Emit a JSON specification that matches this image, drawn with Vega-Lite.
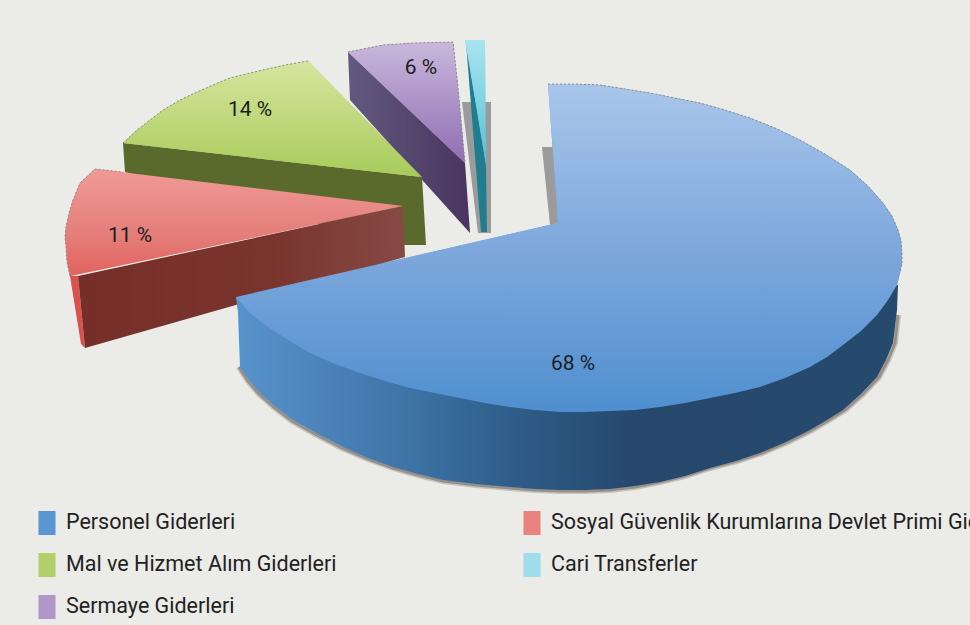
{"$schema":"https://vega.github.io/schema/vega-lite/v6.json","width":970,"height":625,"padding":0,"autosize":{"type":"none"},"background":"#ebebe8","view":{"stroke":null},
"config":{"font":"Roboto"},
"projection":{"type":"identity","scale":10,"translate":[0,0]},
"datasets":{
"faces":[
{"type":"Feature","properties":{"category":"Personel Giderleri","value":68,"part":"top"},"geometry":{"type":"Polygon","coordinates":[[[54.8,8.4],[57.5,8.4],[60,8.5],[62.5,8.9],[65,9.3],[67.5,9.8],[70,10.3],[72.5,11],[75,11.8],[77.5,12.8],[80,14],[82.5,15.4],[85,17],[86.8,18.6],[88.3,20.3],[89.2,21.6],[89.8,23],[90.1,24.1],[90.2,25.3],[90.2,26.3],[90,27.3],[89.7,28.5],[88.8,30],[87.7,31.5],[86.1,33.1],[84.3,34.5],[82.7,35.7],[81,36.7],[78.5,37.8],[76,38.7],[73.5,39.3],[71,39.8],[68.5,40.3],[66,40.7],[63.5,41],[61,41.1],[58.5,41.2],[56,41.2],[53.5,41],[51,40.7],[48.5,40.3],[46,39.8],[43.5,39.3],[41,38.8],[38.5,38.1],[36,37.3],[33.5,36.4],[31,35.3],[29.3,34.3],[27.7,33.3],[26.1,32.2],[24.7,31],[23.6,29.7],[55.8,22.3],[54.8,8.4]]]}},
{"type":"Feature","properties":{"category":"Sosyal Güvenlik Kurumlarına Devlet Primi Giderleri","value":11,"part":"top"},"geometry":{"type":"Polygon","coordinates":[[[9.5,16.9],[40.3,20.6],[7,27.6],[6.7,26.2],[6.6,24.7],[6.5,23.7],[6.6,22.7],[6.9,21.3],[7.3,20],[8,18.3],[9.5,16.9]]]}},
{"type":"Feature","properties":{"category":"Mal ve Hizmet Alım Giderleri","value":14,"part":"top"},"geometry":{"type":"Polygon","coordinates":[[[30.8,6.1],[42.2,17.7],[12.3,14.3],[13.7,13],[15,12],[16.3,11],[18,10],[19.7,9.2],[21.3,8.5],[23,7.8],[24.6,7.4],[26.3,7],[28.5,6.5],[30.8,6.1]]]}},
{"type":"Feature","properties":{"category":"Sermaye Giderleri","value":6,"part":"top"},"geometry":{"type":"Polygon","coordinates":[[[34.8,5.2],[38.3,4.5],[41.3,4.3],[45.3,4.2],[45.8,8.7],[46.5,16.3],[34.8,5.2]]]}},
{"type":"Feature","properties":{"category":"Cari Transferler","value":1,"part":"top"},"geometry":{"type":"Polygon","coordinates":[[[46.5,4],[48.5,4],[48.6,16.5],[46.5,4]]]}},
{"type":"Feature","properties":{"category":"Personel Giderleri","part":"side"},"geometry":{"type":"Polygon","coordinates":[[[23.6,29.7],[89.8,28.5],[89.7,31],[89.3,34.3],[88.6,36],[87.7,37.7],[86.1,39.4],[84.3,41],[82.7,42],[81,43],[78.6,44.2],[76,45.3],[73.6,46.1],[71,46.8],[68.5,47.6],[66,48.2],[63.5,48.6],[61,48.9],[58.5,49],[56,49],[53.5,48.9],[51,48.7],[47.6,48.4],[44.3,48],[41.8,47.4],[39.3,46.7],[36.8,45.8],[34.3,44.7],[31.8,43.4],[29.3,42],[27.6,40.7],[26,39.3],[24.9,38],[24,36.7],[23.8,31.3],[23.6,29.7]]]}},
{"type":"Feature","properties":{"category":"Personel Giderleri","part":"shadow"},"geometry":{"type":"LineString","coordinates":[[89.8,31.5],[89.5,34.3],[88.8,36],[87.9,37.7],[86.3,39.4],[84.5,41],[82.9,42],[81.2,43],[78.8,44.2],[76.2,45.3],[73.7,46.1],[71,46.8],[68.5,47.6],[66,48.2],[63.5,48.7],[61,49],[58.5,49.1],[56,49.1],[53.5,49],[51,48.8],[47.6,48.5],[44.3,48.1],[41.8,47.5],[39.3,46.8],[36.8,45.9],[34.2,44.8],[31.7,43.5],[29.2,42.1],[27.5,40.8],[25.9,39.4],[24.8,38.1],[23.9,36.7]]}},
{"type":"Feature","properties":{"category":"Sosyal Güvenlik Kurumlarına Devlet Primi Giderleri","part":"side"},"geometry":{"type":"Polygon","coordinates":[[[7.8,27.6],[40.3,20.6],[40.5,25.7],[8.5,34.8],[7.8,27.6]]]}},
{"type":"Feature","properties":{"category":"Sosyal Güvenlik Kurumlarına Devlet Primi Giderleri","part":"wall"},"geometry":{"type":"Polygon","coordinates":[[[7,27.6],[7.8,27.6],[8.5,34.8],[8.1,34.4],[7,27.6]]]}},
{"type":"Feature","properties":{"category":"Mal ve Hizmet Alım Giderleri","part":"side"},"geometry":{"type":"Polygon","coordinates":[[[12.3,14.3],[42.2,17.7],[42.6,24.5],[40,24.5],[12.5,17.2],[12.3,14.3]]]}},
{"type":"Feature","properties":{"category":"Sermaye Giderleri","part":"side"},"geometry":{"type":"Polygon","coordinates":[[[34.8,5.2],[46.5,16.3],[47,23.3],[35,10],[34.8,5.2]]]}},
{"type":"Feature","properties":{"category":"Cari Transferler","part":"side"},"geometry":{"type":"Polygon","coordinates":[[[46.6,4.2],[48.6,16.5],[48.7,23.2],[48.1,23.2],[46.6,4.2]]]}},
{"type":"Feature","properties":{"category":"Cari Transferler","part":"shade"},"geometry":{"type":"Polygon","coordinates":[[[46.2,10.2],[49.1,10.2],[49.1,23.3],[47.8,23.3],[46.2,10.2]]]}},
{"type":"Feature","properties":{"category":"Personel Giderleri","part":"shade"},"geometry":{"type":"Polygon","coordinates":[[[54.2,14.7],[55.4,14.7],[55.8,22.3],[55,22.5],[54.2,14.7]]]}},
{"type":"Feature","properties":{"category":"Personel Giderleri","part":"rim"},"geometry":{"type":"LineString","coordinates":[[54.8,8.4],[57.5,8.4],[60,8.5],[62.5,8.9],[65,9.3],[67.5,9.8],[70,10.3],[72.5,11],[75,11.8],[77.5,12.8],[80,14],[82.5,15.4],[85,17],[86.8,18.6],[88.3,20.3],[89.2,21.6],[89.8,23],[90.1,24.1],[90.2,25.3],[90.2,26.3],[90,27.3]]}},
{"type":"Feature","properties":{"category":"Sosyal Güvenlik Kurumlarına Devlet Primi Giderleri","part":"rim"},"geometry":{"type":"LineString","coordinates":[[7,27.6],[6.7,26.2],[6.6,24.7],[6.5,23.7],[6.6,22.7],[6.9,21.3],[7.3,20],[8,18.3],[9.5,16.9],[12.3,17.2]]}},
{"type":"Feature","properties":{"category":"Mal ve Hizmet Alım Giderleri","part":"rim"},"geometry":{"type":"LineString","coordinates":[[12.3,14.3],[13.7,13],[15,12],[16.3,11],[18,10],[19.7,9.2],[21.3,8.5],[23,7.8],[24.6,7.4],[26.3,7],[28.5,6.5],[30.8,6.1]]}},
{"type":"Feature","properties":{"category":"Sermaye Giderleri","part":"rim"},"geometry":{"type":"LineString","coordinates":[[34.8,5.2],[38.3,4.5],[41.3,4.3],[45.3,4.2],[45.8,8.7],[46.5,16.3]]}}
],
"labels":[
{"category":"Personel Giderleri","value":68,"lon":57.3,"lat":36.4},
{"category":"Sosyal Güvenlik Kurumlarına Devlet Primi Giderleri","value":11,"lon":13,"lat":23.6},
{"category":"Mal ve Hizmet Alım Giderleri","value":14,"lon":25,"lat":11},
{"category":"Sermaye Giderleri","value":6,"lon":42.1,"lat":6.8}
]},
"layer":[
{"data":{"name":"faces"},"transform":[{"filter":"datum.properties.part=='top'"}],"mark":{"type":"geoshape","stroke":null},
"encoding":{"color":{"field":"properties.category","type":"nominal","scale":{"domain":["Personel Giderleri","Mal ve Hizmet Alım Giderleri","Sermaye Giderleri","Sosyal Güvenlik Kurumlarına Devlet Primi Giderleri","Cari Transferler"],"range":["#5b95d2","#b2d06a","#b197c9","#e8837f","#9fdcec"]},
"legend":{"title":null,"orient":"none","legendX":35,"legendY":511,"columns":2,"columnPadding":183,"rowPadding":18,"padding":0,"symbolType":"M-0.71,-1L0.71,-1L0.71,1L-0.71,1Z","symbolSize":576,"symbolStrokeWidth":0,"labelFont":"Roboto","labelFontSize":21.5,"labelColor":"#222222","labelLimit":1000,"labelOffset":7}}}},
{"data":{"name":"faces"},"transform":[{"filter":"datum.properties.part=='shade'"}],"mark":{"type":"geoshape","fill":"#8d8d8d","fillOpacity":0.85,"stroke":null}},
{"data":{"name":"faces"},"transform":[{"filter":"datum.properties.part=='side' && datum.properties.category=='Cari Transferler'"}],"mark":{"type":"geoshape","stroke":null,"fill":"#1f7d8d"}},
{"data":{"name":"faces"},"transform":[{"filter":"datum.properties.part=='top' && datum.properties.category=='Cari Transferler'"}],"mark":{"type":"geoshape","stroke":null,"fill":{"gradient":"linear","x1":0,"y1":0,"x2":0,"y2":1,"stops":[{"offset":0,"color":"#a8e4ef"},{"offset":1,"color":"#56c0d8"}]}}},
{"data":{"name":"faces"},"transform":[{"filter":"datum.properties.part=='side' && datum.properties.category=='Sermaye Giderleri'"}],"mark":{"type":"geoshape","stroke":null,"fill":{"gradient":"linear","x1":0,"y1":0,"x2":1,"y2":0,"stops":[{"offset":0,"color":"#625a7e"},{"offset":1,"color":"#49345f"}]}}},
{"data":{"name":"faces"},"transform":[{"filter":"datum.properties.part=='top' && datum.properties.category=='Sermaye Giderleri'"}],"mark":{"type":"geoshape","stroke":null,"fill":{"gradient":"linear","x1":0,"y1":0,"x2":0,"y2":1,"stops":[{"offset":0,"color":"#c9b8dc"},{"offset":1,"color":"#8f6db3"}]}}},
{"data":{"name":"faces"},"transform":[{"filter":"datum.properties.part=='side' && datum.properties.category=='Mal ve Hizmet Alım Giderleri'"}],"mark":{"type":"geoshape","stroke":null,"fill":"#5a6a2c"}},
{"data":{"name":"faces"},"transform":[{"filter":"datum.properties.part=='top' && datum.properties.category=='Mal ve Hizmet Alım Giderleri'"}],"mark":{"type":"geoshape","stroke":null,"fill":{"gradient":"linear","x1":0,"y1":0,"x2":0,"y2":1,"stops":[{"offset":0,"color":"#d6e59e"},{"offset":1,"color":"#a8cb5b"}]}}},
{"data":{"name":"faces"},"transform":[{"filter":"datum.properties.part=='wall'"}],"mark":{"type":"geoshape","stroke":null,"fill":"#d9524d"}},
{"data":{"name":"faces"},"transform":[{"filter":"datum.properties.part=='side' && datum.properties.category=='Sosyal Güvenlik Kurumlarına Devlet Primi Giderleri'"}],"mark":{"type":"geoshape","stroke":null,"fill":{"gradient":"linear","x1":0,"y1":0,"x2":1,"y2":0,"stops":[{"offset":0,"color":"#762e28"},{"offset":0.6,"color":"#7a342e"},{"offset":1,"color":"#864a44"}]}}},
{"data":{"name":"faces"},"transform":[{"filter":"datum.properties.part=='top' && datum.properties.category=='Sosyal Güvenlik Kurumlarına Devlet Primi Giderleri'"}],"mark":{"type":"geoshape","stroke":null,"fill":{"gradient":"linear","x1":0,"y1":0,"x2":0,"y2":1,"stops":[{"offset":0,"color":"#f09a97"},{"offset":0.6,"color":"#e47f7a"},{"offset":1,"color":"#e2625e"}]}}},
{"data":{"name":"faces"},"transform":[{"filter":"datum.properties.part=='shadow'"}],"mark":{"type":"geoshape","fill":null,"filled":false,"stroke":"#6f6660","strokeWidth":6,"strokeOpacity":0.3}},
{"data":{"name":"faces"},"transform":[{"filter":"datum.properties.part=='shadow'"}],"mark":{"type":"geoshape","fill":null,"filled":false,"stroke":"#6f6660","strokeWidth":3,"strokeOpacity":0.55}},
{"data":{"name":"faces"},"transform":[{"filter":"datum.properties.part=='side' && datum.properties.category=='Personel Giderleri'"}],"mark":{"type":"geoshape","stroke":null,"fill":{"gradient":"linear","x1":0,"y1":0,"x2":1,"y2":0,"stops":[{"offset":0,"color":"#5893cc"},{"offset":0.25,"color":"#3f75a8"},{"offset":0.41,"color":"#2f5e8a"},{"offset":0.6,"color":"#26486d"},{"offset":1,"color":"#264a6e"}]}}},
{"data":{"name":"faces"},"transform":[{"filter":"datum.properties.part=='top' && datum.properties.category=='Personel Giderleri'"}],"mark":{"type":"geoshape","stroke":null,"fill":{"gradient":"linear","x1":0,"y1":0,"x2":0,"y2":1,"stops":[{"offset":0,"color":"#a9c6ea"},{"offset":0.5,"color":"#7ea8dd"},{"offset":1,"color":"#4f8fcf"}]}}},
{"data":{"name":"faces"},"transform":[{"filter":"datum.properties.part=='rim'"}],"mark":{"type":"geoshape","fill":null,"filled":false,"stroke":"#8a8a88","strokeWidth":1,"strokeDash":[2,2]}},
{"data":{"name":"labels"},"transform":[{"calculate":"datum.value + ' %'","as":"label"}],"mark":{"type":"text","font":"Roboto","fontSize":21,"color":"#1c1c1c","align":"center","baseline":"middle"},"encoding":{"longitude":{"field":"lon","type":"quantitative"},"latitude":{"field":"lat","type":"quantitative"},"text":{"field":"label","type":"nominal"}}}
]}
